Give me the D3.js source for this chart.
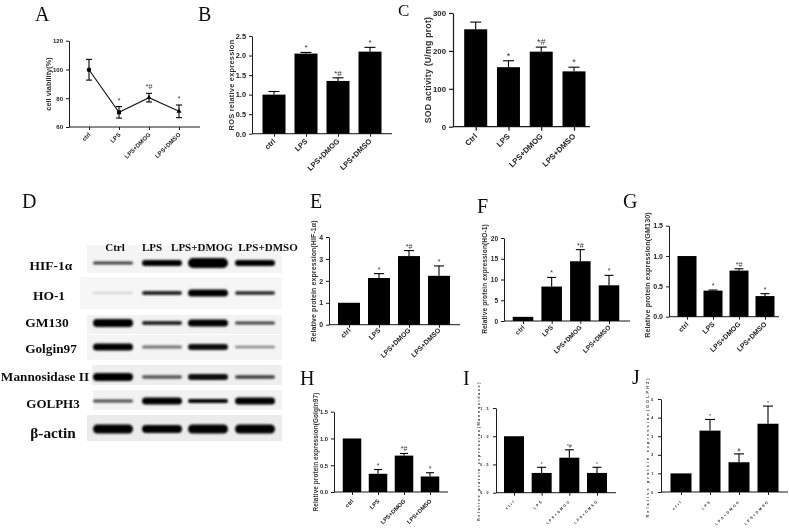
<!DOCTYPE html>
<html><head><meta charset="utf-8">
<style>html,body{margin:0;background:#fff}svg{display:block}text{font-family:"Liberation Sans",Arial,sans-serif}</style>
<script src="https://cdn.jsdelivr.net/npm/d3@7"></script></head><body>
<svg id="c" width="789" height="530"></svg>
<script>
const groupsLower=["ctrl","LPS","LPS+DMOG","LPS+DMSO"];
const groupsUpper=["Ctrl","LPS","LPS+DMOG","LPS+DMSO"];
const viabilityValues=[99.8,70.2,80.4,70.9], viabilityErr=[7.2,4,3,4.4];
const rosValues=[1.0,2.05,1.35,2.1], rosErr=[0.08,0.03,0.08,0.11];
const sodValues=[257,157,198,146], sodErr=[19,17,12,11];
const hifValues=[1,2.13,3.13,2.23], hifErr=[0,0.2,0.25,0.45];
const hoValues=[1,8.3,14.4,8.6], hoErr=[0,2.2,2.8,2.4];
const gmValues=[1,0.43,0.76,0.34], gmErr=[0,0.01,0.03,0.04];
const golginValues=[1,0.34,0.68,0.29], golginErr=[0,0.08,0.04,0.07];
const mannValues=[1,0.35,0.62,0.35], mannErr=[0,0.1,0.14,0.1];
const golphValues=[1,3.3,1.6,3.67], golphErr=[0,0.6,0.45,0.95];
const marksStd=["","*","*#","*"], marksJ=["","*","#","*"];
const blotProteins=["HIF-1α","HO-1","GM130","Golgin97","Mannosidase II","GOLPH3","β-actin"];
const blotThickness=[[3,6,10,6],[1.5,4,7,3.5],[8,4,7,3],[7,3,6,2.5],[8,3.5,6,3.5],[3,7,4,7],[9,8,9,9]];
const blotDarkness=[[.75,1,1,1],[.2,.85,1,.85],[1,.85,1,.75],[1,.55,.95,.45],[1,.65,.95,.75],[.7,1,1,1],[1,1,1,1]];

const svg=d3.select("#c");
const defs=svg.append("defs");
defs.append("filter").attr("id","soft").attr("x","-5%").attr("y","-5%").attr("width","110%").attr("height","110%")
  .append("feGaussianBlur").attr("stdDeviation",0.4);
defs.append("filter").attr("id","band").attr("x","-20%").attr("y","-150%").attr("width","140%").attr("height","400%")
  .append("feGaussianBlur").attr("stdDeviation",1.2);
const root=svg.append("g").attr("filter","url(#soft)");
const symbols=[d3.symbolCircle,d3.symbolSquare,d3.symbolTriangle,d3.symbolTriangle];

function panel(o){
  const g=root.append("g");
  const y=d3.scaleLinear().domain(o.yDomain).range([o.y0,o.y1]);
  const x=d3.scalePoint().domain(o.cats).range([o.c0,o.c3]);
  const ink="#1a1a1a";
  const yA=g.append("g").attr("transform",`translate(${o.ax},0)`)
    .call(d3.axisLeft(y).tickValues(o.ticks).tickFormat(o.fmt).tickSize(o.tick).tickSizeOuter(0));
  const xA=g.append("g").attr("transform",`translate(0,${o.y0})`)
    .call(d3.axisBottom(x).tickSize(o.tick).tickSizeOuter(0));
  xA.select(".domain").attr("d",`M${o.ax},0H${o.xEnd}`);
  [yA,xA].forEach(s=>{s.selectAll("path,line").attr("stroke",ink).attr("stroke-width",o.sw);
    s.selectAll("text").attr("fill","#222").attr("font-weight","bold").attr("font-size",o.fs)
     .style("letter-spacing",(o.ls||0)+"px").style("font-family",'"Liberation Sans"');});
  xA.selectAll("text").attr("text-anchor","end").attr("dy",0).attr("y",0)
    .attr("transform",`translate(${o.dx||1.5},${o.off}) rotate(-45)`);
  g.append("text").attr("transform",`translate(${o.lx},${o.ly}) rotate(-90)`).attr("text-anchor","middle")
    .attr("font-size",o.lfs).attr("font-weight","bold").attr("fill","#333").style("letter-spacing",(o.lls||0)+"px").text(o.label);
  const cap=o.cap;
  if(o.line){
    g.append("path").datum(o.vals).attr("fill","none").attr("stroke",ink).attr("stroke-width",1.2)
      .attr("d",d3.line().x((d,i)=>x(o.cats[i])).y(d=>y(d)));
    g.selectAll(".pt").data(o.vals).join("path").attr("d",(d,i)=>d3.symbol(symbols[i],i<2?16:11)())
      .attr("transform",(d,i)=>`translate(${x(o.cats[i])},${y(d)})`).attr("fill","#000");
  }else{
    g.selectAll(".bar").data(o.vals).join("rect").attr("x",(d,i)=>x(o.cats[i])-o.bw/2).attr("width",o.bw)
      .attr("y",d=>y(d)).attr("height",d=>o.y0-y(d)).attr("fill","#000");
  }
  o.vals.forEach((v,i)=>{
    const e=o.errs[i]; if(!e) return; const cx=x(o.cats[i]);
    const hi=y(v+e), lo=o.line?y(v-e):y(v);
    g.append("line").attr("x1",cx).attr("x2",cx).attr("y1",hi).attr("y2",lo).attr("stroke","#000").attr("stroke-width",1.1);
    g.append("line").attr("x1",cx-cap).attr("x2",cx+cap).attr("y1",hi).attr("y2",hi).attr("stroke","#000").attr("stroke-width",1.1);
    if(o.line) g.append("line").attr("x1",cx-cap).attr("x2",cx+cap).attr("y1",lo).attr("y2",lo).attr("stroke","#000").attr("stroke-width",1.1);
    g.append("text").attr("x",cx).attr("y",hi-(o.mo||3)).attr("text-anchor","middle").attr("font-size",o.mfs).attr("fill","#333").text(o.marks[i]);
  });
}
const f1=d3.format(".1f"), f0=d3.format("d");
panel({cats:groupsLower,vals:viabilityValues,errs:viabilityErr,marks:marksStd,line:true,yDomain:[60,120],ticks:[60,80,100,120],fmt:f0,
  ax:69,xEnd:200,y0:127,y1:40.7,c0:89,c3:179,bw:0,cap:3,tick:3,off:8,sw:1,fs:6,lx:51,ly:84,lfs:7.4,label:"cell viability(%)",mfs:7,mo:4});
panel({cats:groupsLower,vals:rosValues,errs:rosErr,marks:marksStd,yDomain:[0,2.5],ticks:[0,.5,1,1.5,2,2.5],fmt:f1,
  ax:252,xEnd:392,y0:133.7,y1:36,c0:274,c3:370,bw:23,cap:5.5,tick:3,off:8,sw:1,fs:7.4,lx:234,ly:85,lfs:7.4,lls:.25,label:"ROS relative expression",mfs:8,mo:2});
panel({cats:groupsUpper,vals:sodValues,errs:sodErr,marks:marksStd,yDomain:[0,300],ticks:[0,100,200,300],fmt:f0,
  ax:453,xEnd:590,y0:126.7,y1:13,c0:475.7,c3:574,bw:23,cap:5.5,tick:4,off:10,sw:1.2,fs:7.8,lx:431,ly:70,lfs:8.7,lls:.25,label:"SOD activity (U/mg prot)",mfs:9,mo:2});
panel({cats:groupsLower,vals:hifValues,errs:hifErr,marks:marksStd,yDomain:[0,4],ticks:[0,1,2,3,4],fmt:f0,
  ax:329,xEnd:460,y0:324.7,y1:237,c0:349,c3:439,bw:22,cap:5,tick:3,off:6,sw:1,fs:6.9,lx:316,ly:281,lfs:7,lls:.1,label:"Relative protein expression(HIF-1α)",mfs:7,mo:2});
panel({cats:groupsLower,vals:hoValues,errs:hoErr,marks:marksStd,yDomain:[0,20],ticks:[0,5,10,15,20],fmt:f0,
  ax:504,xEnd:630,y0:321,y1:238,c0:523,c3:609,bw:20.5,cap:4.5,tick:3,off:7,sw:1,fs:6.5,lx:487,ly:279,lfs:6.6,lls:.1,label:"Relative protein expression(HO-1)",mfs:7,mo:2});
panel({cats:groupsLower,vals:gmValues,errs:gmErr,marks:marksStd,yDomain:[0,1.5],ticks:[0,.5,1,1.5],fmt:f1,
  ax:669,xEnd:779,y0:316.7,y1:225.7,c0:687,c3:765,bw:19,cap:4.5,tick:3,off:8,sw:1,fs:7,lx:650,ly:275,lfs:7.2,lls:.1,label:"Relative protein expression(GM130)",mfs:7,mo:2});
panel({cats:groupsLower,vals:golginValues,errs:golginErr,marks:marksStd,yDomain:[0,1.5],ticks:[0,.5,1,1.5],fmt:f1,
  ax:334,xEnd:448,y0:492,y1:411.7,c0:352,c3:430,bw:18.5,cap:4,tick:3,off:9.5,sw:1,fs:5.8,lx:318,ly:452,lfs:6.4,lls:.1,label:"Relative protein expression(Golgin97)",mfs:7,mo:2});
panel({cats:groupsLower,vals:mannValues,errs:mannErr,marks:marksStd,yDomain:[0,1.5],ticks:[0,.5,1,1.5],fmt:f1,
  ax:496,xEnd:616,y0:492.7,y1:408,c0:514,c3:597,bw:20,cap:4.5,tick:3,off:8.5,sw:1,fs:3.6,ls:1.6,lx:480,ly:451,lfs:3.8,lls:1.6,label:"Relative protein expression(Mannosidase)",mfs:5,mo:1.5,dx:1});
panel({cats:groupsLower,vals:golphValues,errs:golphErr,marks:marksJ,yDomain:[0,5],ticks:[0,1,2,3,4,5],fmt:f0,
  ax:661,xEnd:788,y0:492,y1:399,c0:681,c3:768,bw:21,cap:5,tick:3,off:9.5,sw:1,fs:3.6,ls:1.7,lx:649,ly:447,lfs:3.8,lls:2.1,label:"Relative protein expression(GOLPH3)",mfs:5,mo:1.5,dx:1});

// panel letters
const letterNames=["A","B","C","D","E","F","G","H","I","J"];
const letterX=[35,198,398,22,310,477,623,300,463,632], letterY=[21,21,15.5,208,208,213,208,385,385,384];
const letterSizes=[20,20,17,20,20,20,20,20,20,20];
root.selectAll(".ltr").data(letterNames).join("text").attr("x",(d,i)=>letterX[i]).attr("y",(d,i)=>letterY[i])
  .attr("font-size",(d,i)=>letterSizes[i]).attr("fill","#111").style("font-family",'"Liberation Serif"').text(d=>d);

// western blot
const blot=root.append("g");
const bandX=d3.scaleOrdinal().domain(groupsUpper).range([113,162,208,255]);
const rowCenters=[263,293,323,347,377,401,429];
const labelCenters=[51,49,47,51,45,53,53], labelY=[269.5,299.5,326.5,352.5,380.5,407.5,438];
const labelSizes=[13.5,13.5,13.5,13.3,13.3,13,15.3];
const panelTop=[245,277,315,335,365,390,415], panelBottom=[273,309,334,360,385,410,441], panelLeft=[87,80,87,87,92,93,87];
const panelFill=["#f4f4f4","#f6f6f6","#f2f2f2","#f4f4f4","#eeeeee","#f2f2f2","#ebebeb"];
const headerX=[115,152,202,268];
blotProteins.forEach((p,r)=>{
  const cy=rowCenters[r];
  blot.append("rect").attr("x",panelLeft[r]).attr("y",panelTop[r]).attr("width",282-panelLeft[r]).attr("height",panelBottom[r]-panelTop[r]).attr("fill",panelFill[r]);
  blot.selectAll(null).data(groupsUpper).join("rect")
    .attr("x",d=>bandX(d)-20).attr("width",40)
    .attr("y",(d,i)=>cy-blotThickness[r][i]/2).attr("height",(d,i)=>blotThickness[r][i])
    .attr("rx",(d,i)=>blotThickness[r][i]/2)
    .attr("fill","#000").attr("opacity",(d,i)=>blotDarkness[r][i]).attr("filter","url(#band)");
  blot.append("text").attr("x",labelCenters[r]).attr("y",labelY[r]).attr("text-anchor","middle")
    .attr("font-size",labelSizes[r]).attr("font-weight","bold").attr("fill","#111").style("font-family",'"Liberation Serif"').text(p);
});
blot.selectAll(null).data(groupsUpper).join("text").attr("x",(d,i)=>headerX[i]).attr("y",251).attr("text-anchor","middle")
  .attr("font-size",11).attr("font-weight","bold").attr("fill","#111").style("font-family",'"Liberation Serif"').text(d=>d);
</script></body></html>
